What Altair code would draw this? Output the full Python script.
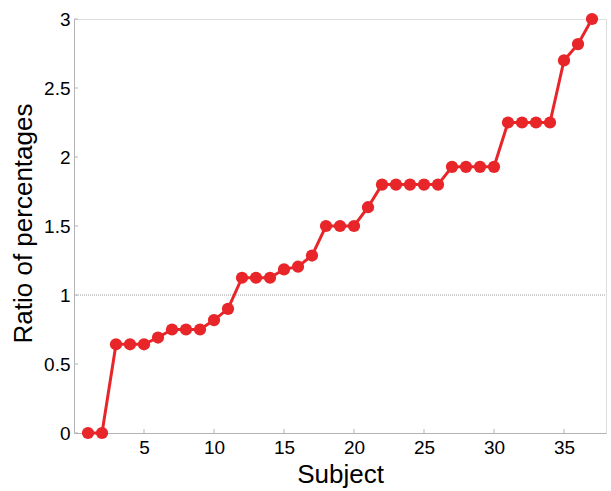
import altair as alt
import pandas as pd

subjects = list(range(1, 38))
ratios = [0.0, 0.0, 0.643, 0.643, 0.643, 0.692, 0.75, 0.75, 0.75, 0.818,
          0.9, 1.125, 1.125, 1.125, 1.186, 1.205, 1.286, 1.5, 1.5, 1.5,
          1.636, 1.8, 1.8, 1.8, 1.8, 1.8, 1.929, 1.929, 1.929, 1.929,
          2.25, 2.25, 2.25, 2.25, 2.7, 2.818, 3.0]
x_ticks = [5, 10, 15, 20, 25, 30, 35]
y_ticks = [0, 0.5, 1, 1.5, 2, 2.5, 3]
ref_level = [1]

W, H = 532, 414
FONT = "Liberation Sans"
RED = "#E8262A"
AXC = "#b4b4b4"

df = pd.DataFrame({"subject": subjects, "ratio": ratios})
xt = pd.DataFrame({"t": x_ticks})
yt = pd.DataFrame({"t": y_ticks})
ref = pd.DataFrame({"v": ref_level})

xs = alt.Scale(domain=[0, 38], nice=False, zero=False)
ys = alt.Scale(domain=[0, 3], nice=False)

xaxis = alt.Axis(values=x_ticks, tickSize=0, grid=False, domainColor=AXC, domainWidth=1,
                 labelFont=FONT, labelFontSize=19, labelColor="black", labelPadding=5,
                 title="Subject", titleFont=FONT, titleFontSize=26, titleFontWeight="normal",
                 titleColor="black", titleBaseline="alphabetic", titleY=49, titleX=266)
yaxis = alt.Axis(values=y_ticks, tickSize=0, grid=False, domainColor=AXC, domainWidth=1,
                 labelFont=FONT, labelFontSize=19, labelColor="black", labelPadding=4,
                 labelExpr="format(datum.value, '')",
                 title="Ratio of percentages", titleFont=FONT, titleFontSize=26,
                 titleFontWeight="normal", titleColor="black", titleAngle=-90,
                 titleBaseline="alphabetic", titleX=-43, titleY=204, titleAlign="center")

refline = alt.Chart(ref).mark_rule(color="#888888", strokeWidth=0.8, strokeDash=[1, 1]).encode(
    y=alt.Y("v:Q", scale=ys, axis=yaxis),
    x=alt.value(0), x2=alt.value(W))

xtick_rules = alt.Chart(xt).mark_rule(color=AXC, strokeWidth=1).encode(
    x=alt.X("t:Q", scale=xs, axis=xaxis), y=alt.value(H), y2=alt.value(H - 4))
ytick_rules = alt.Chart(yt).mark_rule(color=AXC, strokeWidth=1).encode(
    y=alt.Y("t:Q", scale=ys), x=alt.value(0), x2=alt.value(4))

line = alt.Chart(df).mark_line(color=RED, strokeWidth=3, clip=False).encode(
    x=alt.X("subject:Q", scale=xs), y=alt.Y("ratio:Q", scale=ys))
pts = alt.Chart(df).mark_circle(color=RED, size=150, opacity=1, clip=False).encode(
    x=alt.X("subject:Q", scale=xs), y=alt.Y("ratio:Q", scale=ys))

chart = alt.layer(refline, xtick_rules, ytick_rules, line, pts).properties(
    width=W, height=H,
    autosize=alt.AutoSizeParams(type="none"),
    padding={"left": 74, "top": 19, "right": 5, "bottom": 58},
).configure_view(stroke=None).configure(background="white")

chart.save("out.html", embed_options={"renderer": "svg", "actions": False})
